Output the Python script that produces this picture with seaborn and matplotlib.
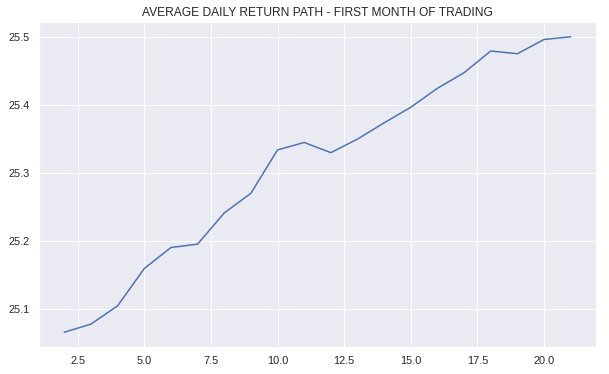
import matplotlib
matplotlib.use("Agg")
import matplotlib.pyplot as plt
import seaborn as sns
import pandas as pd

days = [2, 3, 4, 5, 6, 7, 8, 9, 10, 11, 12, 13, 14, 15, 16, 17, 18, 19, 20, 21]
avg_return = [25.065, 25.077, 25.104, 25.159, 25.190, 25.195, 25.241, 25.270,
              25.334, 25.345, 25.330, 25.350, 25.374, 25.397, 25.425, 25.448,
              25.480, 25.476, 25.497, 25.501]
title = "AVERAGE DAILY RETURN PATH - FIRST MONTH OF TRADING"

sns.set_theme()
plt.rcParams['font.family'] = ['Liberation Sans', 'DejaVu Sans']
df = pd.DataFrame({"day": days, "ret": avg_return})

W, H = 609, 374
fig = plt.figure(figsize=(W / 72, H / 72), dpi=72)
ax = fig.add_axes([39 / W, (H - 347) / H, 557 / W, 325 / H])
sns.lineplot(data=df, x="day", y="ret", ax=ax)
ax.set_xlabel("")
ax.set_ylabel("")
ax.set_title(title, fontsize=12)
fig.savefig("out.png", dpi=72)
